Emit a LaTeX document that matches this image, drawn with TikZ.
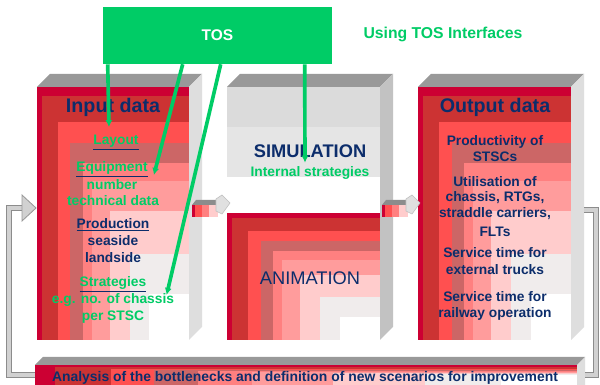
\documentclass[tikz,border=0pt]{standalone}
\usepackage{fontspec}
\setmainfont{Liberation Sans}
\usepackage{tikz}
\usepackage{xcolor}
\tikzset{>=latex}
\usetikzlibrary{calc,arrows.meta}

\definecolor{tosgreen}{HTML}{00CC66}
\definecolor{navy}{HTML}{0C2D6B}
\definecolor{crim}{HTML}{CC0033}
\definecolor{dred}{HTML}{CC3333}
\definecolor{lred}{HTML}{FF5050}
\definecolor{mauve}{HTML}{CC6666}
\definecolor{pinka}{HTML}{FF8080}
\definecolor{pinkb}{HTML}{FF9C9C}
\definecolor{pinkc}{HTML}{FFCCCC}
\definecolor{pale}{HTML}{F0ECEC}

% red front face, fading to white towards the lower right
\newcommand{\redface}[4]{%
  \foreach \fx/\fy/\col in {0/0/crim, .035/.036/dred, .14/.14/lred, .22/.22/mauve,
      .30/.30/pinka, .36/.37/pinkb, .48/.49/pinkc, .61/.66/pale, .74/.82/white}
    \fill[fill=\col] ({#1+\fx*(#3-#1)},{#2+\fy*(#4-#2)}) rectangle (#3,#4);
}
\newcommand{\boxtop}[3]{%
  \fill[topface] (#1,#3) -- (#2,#3) -- ({#2+13},{#3-13}) -- ({#1+13},{#3-13}) -- cycle;}
\newcommand{\boxside}[4]{%
  \fill[fill=#4] (#1,#2) -- ({#1+13},{#2-13}) -- ({#1+13},{#3-13}) -- (#1,#3) -- cycle;}
\newcommand{\ulword}[2]{{\color{navy}$\underline{\hbox{\color{#1}#2}}$}}

\tikzset{
  boxtitle/.style={font=\bfseries\fontsize{14}{16}\selectfont, text=navy, inner sep=0pt},
  bodytext/.style={font=\bfseries\fontsize{9.8}{12}\selectfont, text=navy, inner sep=0pt},
  gbodytext/.style={bodytext, text=tosgreen},
  bigcaps/.style={font=\bfseries\fontsize{13}{15}\selectfont, text=navy, inner sep=0pt},
  tosline/.style={tosgreen, line width=2.6pt, -{Latex[length=5pt,width=5pt]}},
  loopline/.style={draw=black!45, double=black!18, double distance=2.4pt, line width=0.7pt},
  topface/.style={fill=black!40},
}

\begin{document}
\begin{tikzpicture}[x=0.025cm, y=-0.025cm]
  \useasboundingbox (0,0) rectangle (600,385);
  \fill[white] (0,0) rectangle (600,385);

  % input data box
  \boxtop{37}{189}{87}
  \boxside{189}{87}{340}{black!13}
  \redface{37}{87}{189}{340}

  % simulation box with the animation in front
  \boxtop{227}{380}{87}
  \boxside{380}{87}{340}{black!24}
  \fill[black!14] (227,87) rectangle (380,127);
  \fill[black!10] (227,127) rectangle (380,177);
  \redface{227}{213}{380}{340}

  % output data box
  \boxtop{418}{571}{87}
  \boxside{571}{87}{340}{black!13}
  \redface{418}{87}{571}{340}

  % bar at the bottom
  \fill[topface] (35,365) -- (577,365) -- (585,357) -- (43,357) -- cycle;
  \fill[black!13] (577,365) -- (585,357) -- (585,385) -- (577,385) -- cycle;
  \foreach \fx/\fy/\col in {0/0/crim, .037/.1/dred, .14/.2/lred, .22/.25/mauve,
      .30/.3/pinka, .40/.35/pinkb, .55/.4/pinkc, .72/.45/pale, .86/.5/white}
    \fill[fill=\col] ({35+\fx*542},{365+\fy*20}) rectangle (577,385);

  % small arrows between the boxes
  \foreach \sx in {0,190} {
    \begin{scope}[shift={(\sx,0)}]
      \fill[black!45] (192,205) -- (218,205) -- (222,200) -- (196,200) -- cycle;
      \fill[crim] (192,205) rectangle (218,217);
      \fill[lred] (195,205) rectangle (218,217);
      \fill[pinka] (202,205) rectangle (218,217);
      \fill[pinkc] (209,205) rectangle (218,217);
      \filldraw[fill=black!12, draw=black!25] (216,199) -- (222,195) -- (230,203)
        -- (222,214) -- (216,211) -- cycle;
    \end{scope}
  }

  % feedback loop
  \coordinate (bar-w) at (35,375);
  \coordinate (bar-e) at (585,375);
  \coordinate (in-w) at (22,208);
  \coordinate (out-e) at (584,210);
  \draw[loopline] (bar-w) -- ++(-26,0) |- (in-w);
  \filldraw[fill=black!18, draw=black!40, line width=0.6pt]
    ($(in-w)+(0,-13)$) -- ($(in-w)+(14,0)$) -- ($(in-w)+(0,13)$) -- cycle;
  \draw[loopline] (out-e) -- ++(12,0) |- (bar-e);

  % texts
  \node[boxtitle] (intitle) at (113,107) {Input data};
  \node[gbodytext] (layout) at (116,143) {\ulword{tosgreen}{Layout}};
  \node[gbodytext] (equip) at (112,169) {\ulword{tosgreen}{Equipment}};
  \node[gbodytext] (number) at (112,185) {number};
  \node[gbodytext] (techdata) at (113,201) {technical data};
  \node[bodytext] (production) at (113,225) {\ulword{navy}{Production}};
  \node[bodytext] (seaside) at (113,241) {seaside};
  \node[bodytext] (landside) at (113,258) {landside};
  \node[gbodytext] (strat) at (113,284) {\ulword{tosgreen}{Strategies}};
  \node[gbodytext] (eg) at (113,300) {e.g. no. of chassis};
  \node[gbodytext] (perstsc) at (113,317) {per STSC};

  \node[bigcaps] (sim) at (310,151) {SIMULATION};
  \node[gbodytext] (internal) at (310,173) {Internal strategies};
  \node[bigcaps, font=\fontsize{13}{15}\selectfont] (anim) at (310,278) {ANIMATION};

  \node[boxtitle] (outtitle) at (495,107) {Output data};
  \node[bodytext] (prod1) at (495,142) {Productivity of};
  \node[bodytext] (prod2) at (495,157) {STSCs};
  \node[bodytext] (util1) at (495,182) {Utilisation of};
  \node[bodytext] (util2) at (495,198) {chassis, RTGs,};
  \node[bodytext] (util3) at (495,214) {straddle carriers,};
  \node[bodytext] (util4) at (495,232) {FLTs};
  \node[bodytext] (ext1) at (495,253) {Service time for};
  \node[bodytext] (ext2) at (495,270) {external trucks};
  \node[bodytext] (rail1) at (495,297) {Service time for};
  \node[bodytext] (rail2) at (495,314) {railway operation};

  \node[bodytext, font=\bfseries\fontsize{9.9}{11}\selectfont] (bartext) at (305,378)
    {Analysis of the bottlenecks and definition of new scenarios for improvement};

  % TOS and its interfaces
  \node[fill=tosgreen, text=white, font=\bfseries\fontsize{11}{13}\selectfont,
    minimum width=5.725cm, minimum height=1.425cm] (tos) at (217.5,35.5) {TOS};
  \node[text=tosgreen, font=\bfseries\fontsize{11.2}{13}\selectfont] (usingtos)
    at (443,34) {Using TOS Interfaces};
  \draw[tosline] ($(tos.south west)+(5,0)$) -- ($(layout.north)+(-7,-8)$);
  \draw[tosline] ($(tos.south west)+(80,0)$) -- ($(equip.east)+(6,6)$);
  \draw[tosline] ($(tos.south west)+(118,0)$) -- ($(strat.east)+(20,11)$);
  \draw[tosline] ($(tos.south west)+(202,0)$) -- ($(sim.south)+(-5,5)$);
\end{tikzpicture}
\end{document}
